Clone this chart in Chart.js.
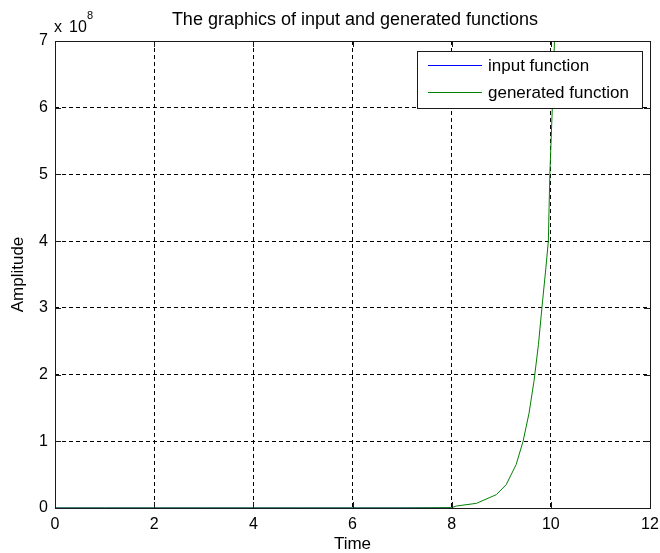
<!DOCTYPE html>
<html>
<head>
<meta charset="utf-8">
<script src="https://cdn.jsdelivr.net/npm/chart.js@4/dist/chart.umd.min.js"></script>
<style>
  html, body { margin: 0; padding: 0; background: #fff; }
  #wrap { width: 660px; height: 553px; }
</style>
</head>
<body>
<div id="wrap"><canvas id="chart" width="660" height="553"></canvas></div>
<script>
// amplitudes are in units of 1e8 (as the axis shows "x 10^8")
const timeValues = [0, 1, 2, 3, 4, 5, 6, 7, 8, 8.1, 8.5, 8.9, 9.1, 9.3, 9.44, 9.56, 9.66, 9.75, 9.82, 9.9, 9.95, 9.98, 10.03, 10.1]
const generatedValues = [0, 0, 0, 0, 0, 0, 0, 0, 0.005, 0.03, 0.07, 0.2, 0.35, 0.65, 1.0, 1.42, 1.9, 2.45, 3.0, 3.6, 4.0, 5.0, 6.0, 7.6]
// the blue input curve only shows up (hidden) along zero
const inputValues = [0, 0, 0, 0, 0, 0, 0, 0, 0, null, null, null, null, null, null, null, null, null, null, null, null, null, null, null]
const xTicks = [0, 2, 4, 6, 8, 10, 12]
const yTicks = [0, 1, 2, 3, 4, 5, 6, 7]

const FONT = "Liberation Sans, Arial, sans-serif"

const toPoints = (ys) => timeValues.map((t, i) => ({ x: t, y: ys[i] }))

// keep tick labels from eating into the plot area
const noOverhang = (s) => {
  s.paddingLeft = 0; s.paddingRight = 0; s.paddingTop = 0; s.paddingBottom = 0
}

const matlabDecor = {
  id: "matlabDecor",
  afterDraw(chart) {
    const { ctx, chartArea: a, scales } = chart
    ctx.save()
    ctx.strokeStyle = "#1a1a1a"
    ctx.lineWidth = 1
    // frame
    ctx.strokeRect(Math.round(a.left) + 0.5, Math.round(a.top) + 0.5,
      Math.round(a.right - a.left), Math.round(a.bottom - a.top))
    // inward tick marks
    ctx.beginPath()
    xTicks.forEach(v => {
      const px = Math.round(scales.x.getPixelForValue(v)) + 0.5
      ctx.moveTo(px, a.bottom); ctx.lineTo(px, a.bottom - 6)
      ctx.moveTo(px, a.top); ctx.lineTo(px, a.top + 6)
    })
    yTicks.forEach(v => {
      const py = Math.round(scales.y.getPixelForValue(v)) + 0.5
      ctx.moveTo(a.left, py); ctx.lineTo(a.left + 6, py)
      ctx.moveTo(a.right, py); ctx.lineTo(a.right - 6, py)
    })
    ctx.stroke()

    // title
    ctx.fillStyle = "#000"
    ctx.textAlign = "center"
    ctx.textBaseline = "middle"
    ctx.font = "18px " + FONT
    ctx.fillText("The graphics of input and generated functions", 355, 20)

    // exponent label
    ctx.textAlign = "left"
    ctx.font = "16px " + FONT
    ctx.fillText("x", 54, 28)
    ctx.fillText("10", 69, 28)
    ctx.font = "11px " + FONT
    ctx.fillText("8", 87, 16)

    // legend box
    const lx = 417, ly = 51, lw = 225, lh = 57
    ctx.fillStyle = "#fff"
    ctx.fillRect(lx, ly, lw, lh)
    ctx.strokeStyle = "#1a1a1a"
    ctx.strokeRect(lx + 0.5, ly + 0.5, lw, lh)
    ctx.font = "17px " + FONT
    chart.data.datasets.forEach((ds, i) => {
      const y = ly + 14 + i * 27
      ctx.strokeStyle = ds.borderColor
      ctx.beginPath()
      ctx.moveTo(lx + 11, y + 0.5); ctx.lineTo(lx + 65, y + 0.5)
      ctx.stroke()
      ctx.fillStyle = "#000"
      ctx.fillText(ds.label, lx + 71, y + 1)
    })
    ctx.restore()
  }
}

new Chart(document.getElementById("chart").getContext("2d"), {
  type: "line",
  data: {
    datasets: [
      {
        label: "input function",
        data: toPoints(inputValues),
        borderColor: "#0000ff",
        borderWidth: 1,
        pointRadius: 0,
        tension: 0,
        spanGaps: false,
        order: 2
      },
      {
        label: "generated function",
        data: toPoints(generatedValues),
        borderColor: "#008000",
        borderWidth: 1,
        pointRadius: 0,
        tension: 0,
        order: 1
      }
    ]
  },
  options: {
    responsive: false,
    animation: false,
    layout: { padding: { top: 41, right: 10, left: 0, bottom: 0 } },
    plugins: {
      legend: { display: false },
      title: { display: false },
      tooltip: { enabled: false }
    },
    scales: {
      x: {
        type: "linear",
        min: 0,
        max: 12,
        afterBuildTicks: (s) => { s.ticks = xTicks.map(v => ({ value: v })) },
        ticks: { color: "#000", font: { family: FONT, size: 16 }, padding: 7, maxRotation: 0 },
        grid: { color: "#000", drawTicks: false, lineWidth: 1 },
        border: { display: false, dash: [4, 3] },
        title: { display: true, text: "Time", color: "#000", font: { family: FONT, size: 17, lineHeight: 1 }, padding: { top: 0, bottom: 0 } },
        afterFit: (s) => { s.height = 45; noOverhang(s) }
      },
      y: {
        type: "linear",
        min: 0,
        max: 7,
        afterBuildTicks: (s) => { s.ticks = yTicks.map(v => ({ value: v })) },
        ticks: { color: "#000", font: { family: FONT, size: 16 }, padding: 7 },
        grid: { color: "#000", drawTicks: false, lineWidth: 1 },
        border: { display: false, dash: [4, 3] },
        title: { display: true, text: "Amplitude", color: "#000", font: { family: FONT, size: 17, lineHeight: 1 }, padding: { top: 10, bottom: 0 } },
        afterFit: (s) => { s.width = 55; noOverhang(s) }
      }
    }
  },
  plugins: [matlabDecor]
})
</script>
</body>
</html>
